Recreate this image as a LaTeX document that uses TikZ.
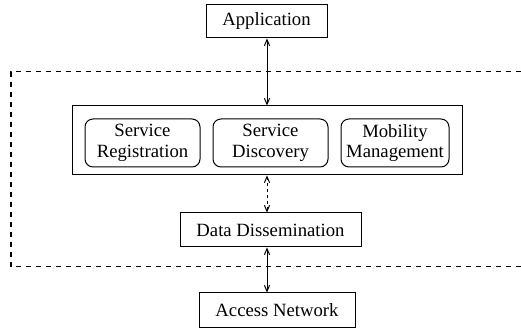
\documentclass[tikz,border=0pt]{standalone}
\usepackage{fontspec}
\setmainfont{Liberation Serif}
\usetikzlibrary{arrows.meta}
\begin{document}
\begin{tikzpicture}[x=0.5pt,y=-0.5pt,
  box/.style={draw,line width=0.5pt,inner sep=0pt,align=center,font=\fontsize{9.35}{10.2}\selectfont},
  rbox/.style={box,rounded corners=4pt},
  link/.style={line width=0.5pt,{Straight Barb[length=3pt,width=2.6pt]}-{Straight Barb[length=3pt,width=2.6pt]}},
  frame/.style={line width=0.5pt,dash pattern=on 2.6pt off 2.4pt}]
\useasboundingbox (0,0) rectangle (521,330);
\node[box,minimum width=60.5pt,minimum height=16.5pt] (app) at (266.5,21.5) {Application};
\node[box,minimum width=195pt,minimum height=34.5pt] (core) at (267,140.5) {};
\node[rbox,minimum width=57.5pt,minimum height=24pt] (sr) at (142.5,143) {Service\\Registration};
\node[rbox,minimum width=57.5pt,minimum height=24pt] (sd) at (270.5,143) {Service\\Discovery};
\node[rbox,minimum width=54pt,minimum height=24pt] (mm) at (395,143) {Mobility\\Management};
\node[box,minimum width=90.5pt,minimum height=17pt] (dd) at (270.5,230) {Data Dissemination};
\node[box,minimum width=78pt,minimum height=17.5pt] (an) at (277,310.5) {Access Network};
\coordinate (ax) at (267,0);
\coordinate (f1) at (521,72);
\coordinate (f2) at (11,72);
\coordinate (f3) at (11,267);
\coordinate (f4) at (521,267);
\draw[frame] (f1) -- (f2) -- (f3) -- (f4);
\draw[link] (app.south -| ax) -- (core.north -| ax);
\draw[link,dash pattern=on 1.5pt off 1.5pt] (core.south -| ax) -- (dd.north -| ax);
\draw[link] (dd.south -| ax) -- (an.north -| ax);
\end{tikzpicture}
\end{document}
